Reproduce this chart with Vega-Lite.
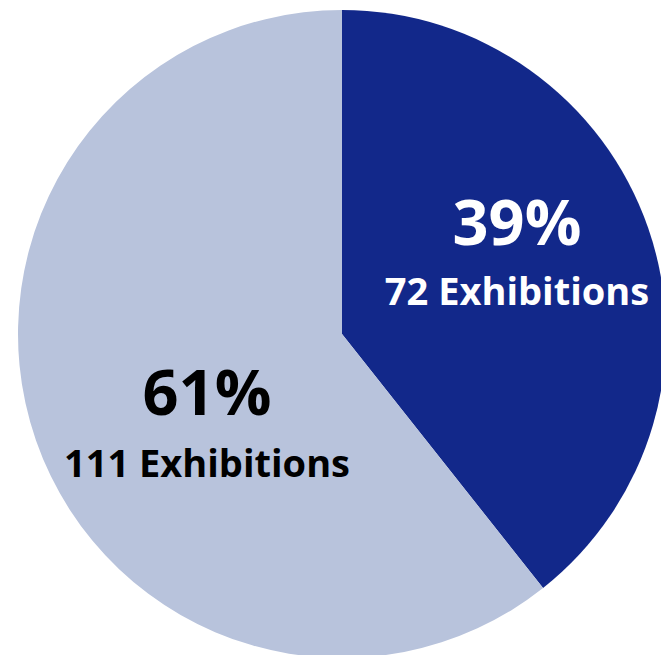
{
  "$schema": "https://vega.github.io/schema/vega-lite/v6.json",
  "width": 684,
  "height": 668,
  "padding": 0,
  "autosize": {"type": "none"},
  "background": "white",
  "view": {"stroke": null},
  "data": {
    "values": [
      {"category": "Group A", "rank": 1, "exhibitions": 72, "pct": "39%", "label": "72 Exhibitions"},
      {"category": "Group B", "rank": 2, "exhibitions": 111, "pct": "61%", "label": "111 Exhibitions"}
    ]
  },
  "encoding": {
    "theta": {"field": "exhibitions", "type": "quantitative", "stack": true},
    "order": {"field": "rank", "type": "quantitative"}
  },
  "layer": [
    {
      "mark": {"type": "arc", "outerRadius": 324, "stroke": null},
      "encoding": {
        "color": {
          "field": "category",
          "type": "nominal",
          "scale": {"domain": ["Group A", "Group B"], "range": ["#12288a", "#b8c3dc"]},
          "legend": null
        }
      }
    },
    {
      "mark": {"type": "text", "radius": 180, "dx": 5, "dy": -30, "font": "Open Sans", "fontWeight": "bold", "fontSize": 63, "align": "center", "baseline": "alphabetic", "color": "white"},
      "encoding": {
        "text": {"condition": {"test": "datum.rank === 1", "field": "pct"}, "value": ""}
      }
    },
    {
      "mark": {"type": "text", "radius": 180, "dx": 5, "dy": 30, "font": "Open Sans", "fontWeight": "bold", "fontSize": 38, "align": "center", "baseline": "alphabetic", "color": "white"},
      "encoding": {
        "text": {"condition": {"test": "datum.rank === 1", "field": "label"}, "value": ""}
      }
    },
    {
      "mark": {"type": "text", "radius": 180, "dx": 35, "dy": 22, "font": "Open Sans", "fontWeight": "bold", "fontSize": 63, "align": "center", "baseline": "alphabetic", "color": "black"},
      "encoding": {
        "text": {"condition": {"test": "datum.rank === 2", "field": "pct"}, "value": ""}
      }
    },
    {
      "mark": {"type": "text", "radius": 180, "dx": 35, "dy": 84, "font": "Open Sans", "fontWeight": "bold", "fontSize": 38, "align": "center", "baseline": "alphabetic", "color": "black"},
      "encoding": {
        "text": {"condition": {"test": "datum.rank === 2", "field": "label"}, "value": ""}
      }
    }
  ]
}
